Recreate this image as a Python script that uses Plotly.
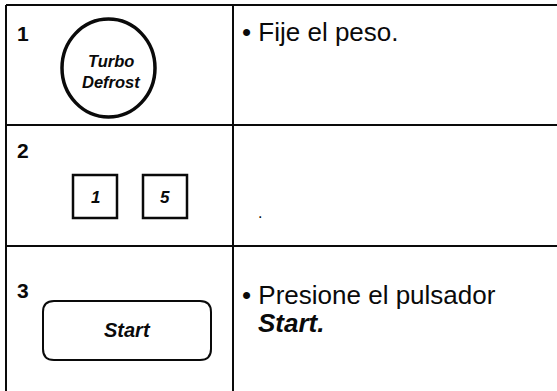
import plotly.graph_objects as go

# ---- content ----
step_numbers = ["1", "2", "3"]
instruction_lines = [["• Fije el peso."], [], ["• Presione el pulsador", "<b><i>Start.</i></b>"]]
dial_label = ["Turbo", "Defrost"]
keypad_digits = ["1", "5"]
start_label = "Start"

W, H = 557, 391
INK = "#0a0a0a"
FONT = "Liberation Sans, Arial, Helvetica, sans-serif"

# ---- layout constants (pixels) ----
left_x, div_x, right_x = 6, 233, 557
row_lines = [5, 125, 246]
num_pos = [(15, 33), (15, 150), (15, 290)]

fig = go.Figure()
shapes = []
line_style = dict(color=INK, width=2)
for y in row_lines:
    shapes.append(dict(type="line", x0=left_x, x1=right_x, y0=y, y1=y, line=line_style))
shapes.append(dict(type="line", x0=left_x, x1=left_x, y0=row_lines[0], y1=H + 2, line=line_style))
shapes.append(dict(type="line", x0=div_x, x1=div_x, y0=row_lines[0], y1=H + 2, line=line_style))

# dial circle
shapes.append(dict(type="circle", x0=62, x1=155, y0=19, y1=117, line=dict(color=INK, width=3.5)))

# keypad boxes
key_boxes = [(73, 117), (143, 187)]
for (x0, x1) in key_boxes:
    shapes.append(dict(type="rect", x0=x0, x1=x1, y0=175, y1=218, line=dict(color=INK, width=2.5)))

def rrect(x0, y0, x1, y1, r):
    return (f"M {x0+r},{y0} L {x1-r},{y0} Q {x1},{y0} {x1},{y0+r} "
            f"L {x1},{y1-r} Q {x1},{y1} {x1-r},{y1} L {x0+r},{y1} "
            f"Q {x0},{y1} {x0},{y1-r} L {x0},{y0+r} Q {x0},{y0} {x0+r},{y0} Z")
shapes.append(dict(type="path", path=rrect(43, 301, 211, 360, 11), line=dict(color=INK, width=2)))

annotations = []
def txt(x, y, s, size, xanchor="left", bold=False, italic=False, pad=1):
    if bold:
        s = f"<b>{s}</b>"
    if italic:
        s = f"<i>{s}</i>"
    annotations.append(dict(x=x, y=y, xref="x", yref="y", text=s, showarrow=False,
                            xanchor=xanchor, yanchor="middle", borderpad=pad,
                            font=dict(family=FONT, size=size, color=INK)))

for (x, y), n in zip(num_pos, step_numbers):
    txt(x, y, n, 21, bold=True)

txt(111, 61, dial_label[0], 16.5, xanchor="center", bold=True, italic=True, pad=0)
txt(111, 82, dial_label[1], 16.5, xanchor="center", bold=True, italic=True, pad=0)

for (x0, x1), d in zip(key_boxes, keypad_digits):
    txt((x0 + x1) / 2, 197, d, 17, xanchor="center", bold=True, italic=True)

txt(127, 330, start_label, 20, xanchor="center", bold=True, italic=True)

inst_pos = [[(240, 32)], [], [(240, 295), (256, 323)]]
for lines, poss in zip(instruction_lines, inst_pos):
    for s, (x, y) in zip(lines, poss):
        txt(x, y, s, 26)

# stray scan dot
txt(260, 212, ".", 16, xanchor="center")

fig.update_layout(
    width=W, height=H, autosize=False,
    margin=dict(l=0, r=0, t=0, b=0),
    paper_bgcolor="white", plot_bgcolor="white",
    xaxis=dict(range=[0, W], visible=False, fixedrange=True),
    yaxis=dict(range=[H, 0], visible=False, fixedrange=True),
    shapes=shapes, annotations=annotations, showlegend=False,
)
fig.write_html("out.html", config={"displayModeBar": False},
               post_script="document.body.style.margin='0';document.body.style.overflow='hidden';")
